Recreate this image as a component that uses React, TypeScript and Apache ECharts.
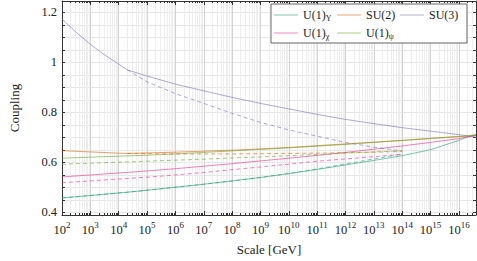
import React, { useEffect, useRef } from "react";
import * as echarts from "echarts";

// Energy scale in GeV (x positions of the read-off points)
const SCALE_GEV = [1e2, 316, 1e3, 3162, 1e4, 2e4, 1e5, 1e6, 1e7, 1e8, 1e9, 1e10, 1e11, 1e12, 1e13, 1e14, 1e15, 1e16, 2e16, 4e16];

// Solid curves (null = no reading at that scale)
const U1Y = [0.458, null, 0.468, null, 0.478, 0.481, 0.489, 0.501, 0.513, 0.526, 0.540, 0.555, 0.572, 0.590, 0.608, 0.627, 0.651, 0.688, 0.702, 0.712];
const SU2 = [0.647, null, 0.642, null, 0.637, 0.636, 0.638, 0.641, 0.645, 0.649, 0.654, 0.660, 0.667, 0.674, 0.681, 0.688, 0.696, 0.703, 0.705, 0.708];
const SU3 = [1.173, 1.120, 1.072, 1.030, 0.993, 0.970, 0.945, 0.913, 0.886, 0.860, 0.836, 0.814, 0.792, 0.772, 0.755, 0.739, 0.725, 0.711, 0.706, 0.701];
const U1CHI = [0.542, null, 0.550, null, 0.558, 0.560, 0.566, 0.575, 0.585, 0.595, 0.606, 0.617, 0.628, 0.640, 0.653, 0.666, 0.680, 0.695, 0.702, 0.708];
const U1PSI = [0.617, null, 0.621, null, 0.625, 0.626, 0.629, 0.634, 0.640, 0.646, 0.652, 0.658, 0.665, 0.672, 0.680, 0.688, 0.696, 0.704, 0.707, 0.710];

// Dashed curves (null = not drawn)
const U1Y_D = [0.458, null, 0.468, null, 0.478, 0.481, 0.489, 0.501, 0.513, 0.526, 0.540, 0.556, 0.574, 0.594, 0.614, 0.634, null, null, null, null];
const SU2_D = [null, null, null, null, null, 0.636, 0.635, 0.634, 0.634, 0.634, 0.635, 0.636, 0.637, 0.639, 0.641, 0.644, null, null, null, null];
const SU3_D = [null, null, null, null, null, 0.970, 0.922, 0.875, 0.836, 0.796, 0.760, 0.730, 0.705, 0.680, 0.661, 0.646, null, null, null, null];
const U1CHI_D = [0.519, null, 0.526, null, 0.534, 0.536, 0.541, 0.550, 0.560, 0.571, 0.582, 0.593, 0.605, 0.614, 0.623, 0.632, null, null, null, null];
const U1PSI_D = [0.593, null, 0.597, null, 0.601, 0.602, 0.605, 0.609, 0.613, 0.618, 0.622, 0.627, 0.632, 0.637, 0.642, 0.647, null, null, null, null];

// Axes
const X_MIN = 1e2;
const X_MAX = 4e16;
const X_MAJOR = [1e2, 1e3, 1e4, 1e5, 1e6, 1e7, 1e8, 1e9, 1e10, 1e11, 1e12, 1e13, 1e14, 1e15, 1e16];
const X_MINOR_FACTORS = [2, 3, 4, 5, 6, 7, 8, 9];
const Y_MIN = 0.39;
const Y_MAX = 1.245;
const Y_LABELS = [0.4, 0.6, 0.8, 1, 1.2];
const Y_TICKS = [0.4, 0.45, 0.5, 0.55, 0.6, 0.65, 0.7, 0.75, 0.8, 0.85, 0.9, 0.95, 1, 1.05, 1.1, 1.15, 1.2];

const NAMES = ["U(1)Y", "SU(2)", "SU(3)", "U(1)χ", "U(1)ψ"];
const LEGEND_TEXT: Record<string, string> = {
  "U(1)Y": "U(1){sub|Y}",
  "SU(2)": "SU(2)",
  "SU(3)": "SU(3)",
  "U(1)χ": "U(1){sub|χ}",
  "U(1)ψ": "U(1){sub|ψ}",
};
const COLORS = ["#1b9e77", "#d95f02", "#7570b3", "#e7298a", "#66a61e"];

const FONT = "'Liberation Serif', 'Times New Roman', serif";

export default function App() {
  const ref = useRef<HTMLDivElement>(null);
  useEffect(() => {
    const chart = echarts.init(ref.current!, null, { renderer: "svg" });
    const minorX: number[] = [];
    X_MAJOR.forEach((m) => X_MINOR_FACTORS.forEach((f) => { if (m * f <= X_MAX) minorX.push(m * f); }));
    minorX.push(1e16 * 2, 1e16 * 3, 1e16 * 4);

    const toData = (vals: (number | null)[]) =>
      SCALE_GEV.map((s, i) => (vals[i] == null ? null : [s, vals[i]])).filter((d) => d !== null);

    const solids = [U1Y, SU2, SU3, U1CHI, U1PSI];
    const dashed = [U1Y_D, SU2_D, SU3_D, U1CHI_D, U1PSI_D];
    const series: any[] = [];
    solids.forEach((vals, i) => {
      series.push({
        name: NAMES[i], type: "line", data: toData(vals), xAxisIndex: 0, yAxisIndex: 0,
        symbol: "none", showSymbol: false, color: COLORS[i],
        lineStyle: { color: COLORS[i], width: 0.9, opacity: 0.65 },
        z: 3,
      });
    });
    dashed.forEach((vals, i) => {
      series.push({
        name: NAMES[i] + " (dashed)", type: "line", data: toData(vals), xAxisIndex: 0, yAxisIndex: 0,
        symbol: "none", showSymbol: false, color: COLORS[i],
        lineStyle: { color: COLORS[i], width: 0.9, opacity: 0.65, type: [4, 3] },
        z: 3,
      });
    });

    const supLabel = (v: number) => `{b|10}{sup|${Math.round(Math.log10(v))}}`;
    const axisColor = "#333";

    chart.setOption({
      animation: false,
      backgroundColor: "#fff",
      textStyle: { fontFamily: FONT },
      grid: { left: 45, right: 1, top: 1, bottom: 42, containLabel: false },
      legend: {
        data: NAMES,
        icon: "rect",
        left: 271, top: 4, width: 190,
        padding: [4, 8, 3, 3],
        itemWidth: 24, itemHeight: 1, itemGap: 4,
        itemStyle: { opacity: 0.55 },
        backgroundColor: "#fff", borderColor: "#666", borderWidth: 1,
        formatter: (n: string) => LEGEND_TEXT[n],
        textStyle: {
          fontFamily: FONT, fontSize: 12, color: "#222", width: 30, lineHeight: 14,
          rich: { sub: { fontFamily: FONT, fontSize: 8, verticalAlign: "bottom", lineHeight: 14, color: "#222" } },
        },
      },
      xAxis: [
        {
          type: "log", logBase: 10, min: X_MIN, max: X_MAX, position: "bottom",
          axisLine: { show: true, onZero: false, lineStyle: { color: axisColor, width: 1 } },
          axisTick: { show: true, inside: true, length: 4, customValues: X_MAJOR, lineStyle: { color: axisColor } },
          axisLabel: {
            show: true, customValues: X_MAJOR, formatter: supLabel, margin: 5, color: "#222",
            rich: {
              b: { fontFamily: FONT, fontSize: 12.5, color: "#222", lineHeight: 16, verticalAlign: "bottom" },
              sup: { fontFamily: FONT, fontSize: 9, color: "#222", lineHeight: 16, verticalAlign: "top" },
            },
          },
          splitLine: { show: true, lineStyle: { color: "#d4d4d4", width: 1 } },
          minorTick: { show: false }, minorSplitLine: { show: false },
          name: "Scale [GeV]", nameLocation: "middle", nameGap: 28,
          nameTextStyle: { fontFamily: FONT, fontSize: 13, color: "#222" },
        },
        {
          type: "log", logBase: 10, min: X_MIN, max: X_MAX, position: "bottom",
          axisLine: { show: false },
          axisTick: { show: true, inside: true, length: 2, customValues: minorX, lineStyle: { color: axisColor } },
          axisLabel: { show: false },
          splitLine: { show: true, lineStyle: { color: "#eeeeee", width: 1 } },
        },
        {
          type: "log", logBase: 10, min: X_MIN, max: X_MAX, position: "top",
          axisLine: { show: true, onZero: false, lineStyle: { color: axisColor, width: 1 } },
          axisTick: { show: true, inside: true, length: 4, customValues: X_MAJOR, lineStyle: { color: axisColor } },
          axisLabel: { show: false }, splitLine: { show: false },
        },
        {
          type: "log", logBase: 10, min: X_MIN, max: X_MAX, position: "top",
          axisLine: { show: false },
          axisTick: { show: true, inside: true, length: 2, customValues: minorX, lineStyle: { color: axisColor } },
          axisLabel: { show: false }, splitLine: { show: false },
        },
      ],
      yAxis: [
        {
          type: "value", min: Y_MIN, max: Y_MAX, position: "left",
          axisLine: { show: true, onZero: false, lineStyle: { color: axisColor, width: 1 } },
          axisTick: { show: true, inside: true, length: 3, customValues: Y_TICKS, lineStyle: { color: axisColor } },
          axisLabel: {
            show: true, customValues: Y_LABELS, margin: 5, color: "#222", fontFamily: FONT, fontSize: 12.5,
            formatter: (v: number) => String(Math.round(v * 10) / 10),
          },
          splitLine: { show: true, lineStyle: { color: "#e6e6e6", width: 1 } },
          name: "Coupling", nameLocation: "middle", nameGap: 41, nameRotate: 90,
          nameTextStyle: { fontFamily: FONT, fontSize: 13, color: "#222" },
        },
        {
          type: "value", min: Y_MIN, max: Y_MAX, position: "right",
          axisLine: { show: true, onZero: false, lineStyle: { color: axisColor, width: 1 } },
          axisTick: { show: true, inside: true, length: 3, customValues: Y_TICKS, lineStyle: { color: axisColor } },
          axisLabel: { show: false }, splitLine: { show: false },
        },
      ],
      series,
    });
    return () => chart.dispose();
  }, []);
  return (
    <div
      ref={ref}
      style={{ position: "fixed", left: 0, top: 0, width: 477, height: 261, background: "#fff" }}
    />
  );
}
